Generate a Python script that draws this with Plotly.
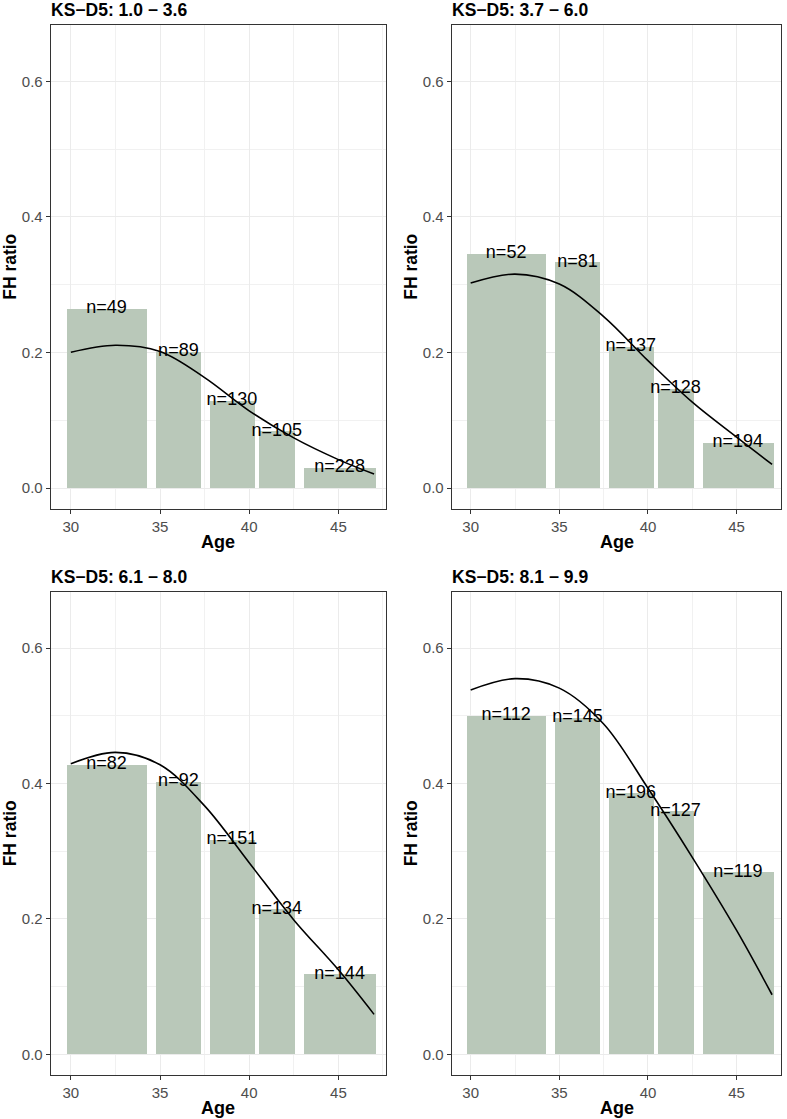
import plotly.graph_objects as go

# ---------------- data ----------------
panel_titles = ["KS\u2212D5: 1.0 \u2212 3.6", "KS\u2212D5: 3.7 \u2212 6.0",
                "KS\u2212D5: 6.1 \u2212 8.0", "KS\u2212D5: 8.1 \u2212 9.9"]

age_mid = [32.0, 36.03, 39.03, 41.55, 45.07]
age_width = [4.5, 2.54, 2.53, 2.03, 4.02]

fh_ratio_p1 = [0.2644, 0.201, 0.1287, 0.0835, 0.030]
fh_ratio_p2 = [0.3456, 0.3328, 0.2086, 0.1463, 0.0668]
fh_ratio_p3 = [0.4277, 0.4024, 0.317, 0.214, 0.1185]
fh_ratio_p4 = [0.5004, 0.497, 0.3856, 0.359, 0.269]

n_p1 = [49, 89, 130, 105, 228]
n_p2 = [52, 81, 137, 128, 194]
n_p3 = [82, 92, 151, 134, 144]
n_p4 = [112, 145, 196, 127, 119]

curve_age = [30, 32.5, 35, 37.5, 40, 42.5, 45, 47]
curve_p1 = [0.2005, 0.2108, 0.2015, 0.163, 0.114, 0.074, 0.042, 0.0206]
curve_p2 = [0.3024, 0.3157, 0.301, 0.253, 0.188, 0.1267, 0.0751, 0.0349]
curve_p3 = [0.4292, 0.446, 0.4277, 0.367, 0.283, 0.1986, 0.1248, 0.059]
curve_p4 = [0.5383, 0.555, 0.541, 0.488, 0.393, 0.291, 0.183, 0.088]

x_ticks = [30, 35, 40, 45]
y_ticks = [0.0, 0.2, 0.4, 0.6]

ratios = [fh_ratio_p1, fh_ratio_p2, fh_ratio_p3, fh_ratio_p4]
counts = [n_p1, n_p2, n_p3, n_p4]
curves = [curve_p1, curve_p2, curve_p3, curve_p4]

# ---------------- layout geometry ----------------
W, H = 787, 1119
FONT = "Liberation Sans, Arial, Helvetica, sans-serif"
BAR_COLOR = "#B9C8B9"

# panel boxes in pixels: (left, right, top, bottom)
boxes = [(50.7, 386.0, 25.1, 509.1),
         (451.7, 781.3, 25.1, 509.1),
         (50.7, 386.0, 592.0, 1075.3),
         (451.7, 781.3, 592.0, 1075.3)]
x_ranges = [[28.87, 47.67], [28.93, 47.52], [28.87, 47.67], [28.93, 47.52]]
y_range = [-0.031, 0.683]

fig = go.Figure()
annotations = []

for i in range(4):
    sfx = "" if i == 0 else str(i + 1)
    xa, ya = "x" + sfx, "y" + sfx
    l, r, t, b = boxes[i]
    xdom = [l / W, r / W]
    ydom = [1 - b / H, 1 - t / H]

    fig.add_trace(go.Bar(
        x=age_mid, y=ratios[i], width=age_width,
        marker=dict(color=BAR_COLOR, line=dict(width=0)),
        xaxis=xa, yaxis=ya, showlegend=False, hoverinfo="skip"))

    fig.add_trace(go.Scatter(
        x=curve_age, y=curves[i], mode="lines",
        line=dict(color="black", width=1.6, shape="spline", smoothing=1.0),
        xaxis=xa, yaxis=ya, showlegend=False, hoverinfo="skip"))

    fig.add_trace(go.Scatter(
        x=age_mid, y=ratios[i], mode="text",
        text=["n=%d" % n for n in counts[i]],
        textposition="middle center",
        textfont=dict(family=FONT, size=18, color="black"),
        xaxis=xa, yaxis=ya, showlegend=False, hoverinfo="skip",
        cliponaxis=False))

    axis_common = dict(
        showline=True, linecolor="#333333", linewidth=1, mirror=True,
        ticks="outside", ticklen=4, tickwidth=1, tickcolor="#333333",
        tickfont=dict(family=FONT, size=15, color="#4D4D4D"),
        showgrid=True, gridcolor="#EBEBEB", gridwidth=1.1,
        zeroline=False, fixedrange=True,
    )
    fig.update_layout(**{
        "xaxis" + sfx: dict(
            axis_common, domain=xdom, range=x_ranges[i],
            tickmode="array", tickvals=x_ticks,
            ticktext=[str(v) for v in x_ticks],
            minor=dict(tickmode="array", tickvals=[32.5, 37.5, 42.5, 47.5],
                       showgrid=True, gridcolor="#F1F1F1", gridwidth=0.8,
                       ticks=""),
            anchor=ya),
        "yaxis" + sfx: dict(
            axis_common, domain=ydom, range=y_range,
            tickmode="array", tickvals=y_ticks,
            ticktext=["%.1f" % v for v in y_ticks],
            minor=dict(tickmode="array", tickvals=[0.1, 0.3, 0.5],
                       showgrid=True, gridcolor="#F1F1F1", gridwidth=0.8,
                       ticks=""),
            anchor=xa),
    })

    # panel title
    annotations.append(dict(
        text="<b>%s</b>" % panel_titles[i], xref="paper", yref="paper",
        x=l / W, y=1 - (t - 14.8) / H, xanchor="left", yanchor="middle",
        xshift=-2,
        showarrow=False, font=dict(family=FONT, size=17.5, color="black")))
    # x-axis title
    annotations.append(dict(
        text="<b>Age</b>", xref="paper", yref="paper",
        x=(l + r) / 2 / W, y=1 - (b + 32.5) / H, xanchor="center",
        yanchor="middle", showarrow=False,
        font=dict(family=FONT, size=18, color="black")))
    # y-axis title
    annotations.append(dict(
        text="<b>FH ratio</b>", xref="paper", yref="paper",
        x=(l - 41.0) / W, y=1 - (t + b) / 2 / H, xanchor="center",
        yanchor="middle", textangle=-90, showarrow=False,
        font=dict(family=FONT, size=17.5, color="black")))

fig.update_layout(
    width=W, height=H,
    margin=dict(l=0, r=0, t=0, b=0),
    paper_bgcolor="white", plot_bgcolor="white",
    bargap=0, barmode="overlay",
    annotations=annotations,
    font=dict(family=FONT),
)

fig.write_html(
    "out.html",
    config={"displayModeBar": False},
    post_script="document.body.style.margin='0px';"
                "document.body.style.padding='0px';"
                "document.body.style.overflow='hidden';"
                "document.documentElement.style.overflow='hidden';",
)
